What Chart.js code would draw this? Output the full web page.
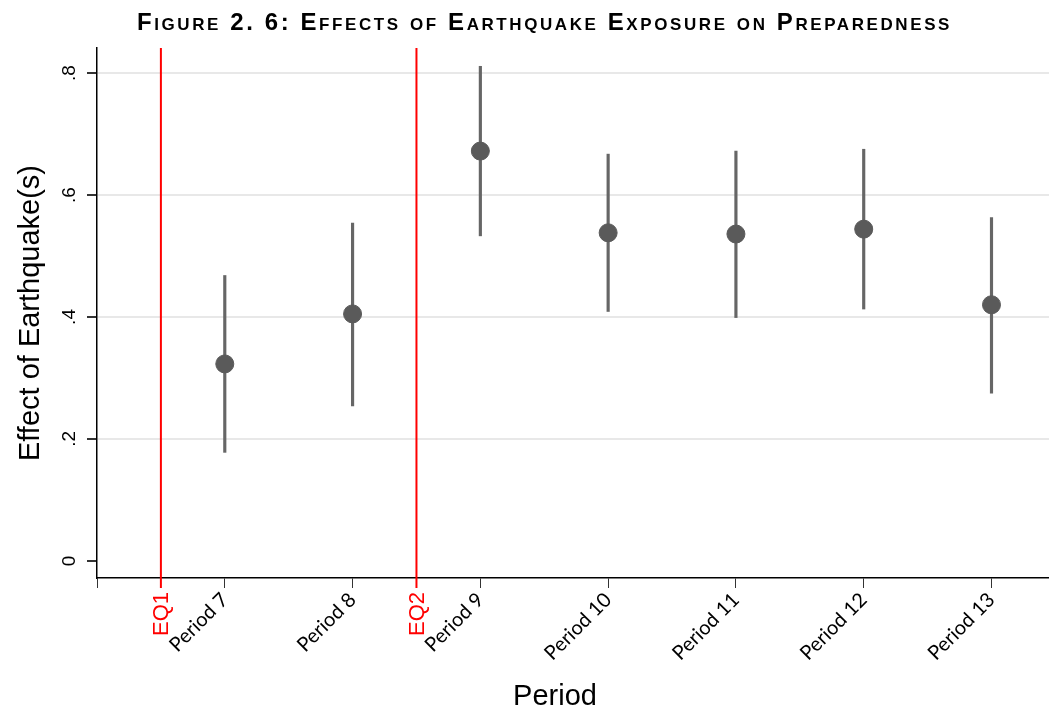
<!DOCTYPE html>
<html>
<head>
<meta charset="utf-8">
<title>Effects of Earthquake Exposure on Preparedness</title>
<script src="https://cdn.jsdelivr.net/npm/chart.js"></script>
<style>
    html, body {
        margin: 0;
        padding: 0;
        background: #ffffff;
    }

    .chart-box {
        width: 1049px;
        height: 713px;
    }
</style>
</head>
<body>
<div class="chart-box">
    <canvas id="effectChart"></canvas>
</div>

<script>
    // values
    const periods = [7, 8, 9, 10, 11, 12, 13];
    const periodLabels = ['Period 7', 'Period 8', 'Period 9', 'Period 10', 'Period 11', 'Period 12', 'Period 13'];
    const effects = [0.323, 0.405, 0.672, 0.538, 0.536, 0.544, 0.420];
    const ciLow = [0.178, 0.254, 0.533, 0.409, 0.399, 0.413, 0.275];
    const ciHigh = [0.468, 0.554, 0.811, 0.667, 0.672, 0.675, 0.563];

    // earthquake markers sit between periods
    const quakes = [6.5, 8.5];
    const quakeLabels = ['EQ1', 'EQ2'];

    const yTicks = [0, 0.2, 0.4, 0.6, 0.8];
    const yTickLabels = ['0', '.2', '.4', '.6', '.8'];
    const xTicks = [6, 6.5, 7, 8, 8.5, 9, 10, 11, 12, 13];

    const titleText = 'Figure 2. 6: Effects of Earthquake Exposure on Preparedness';

    const pointData = periods.map((p, i) => ({x: p, y: effects[i]}));
    const ciData = periods.map((p, i) => ({x: p, y: [ciLow[i], ciHigh[i]]}));

    const arial = '"Liberation Sans", Arial, sans-serif';

    // red vertical lines, rotated EQ labels, small-caps title, x title
    const quakePlugin = {
        id: 'quakeLines',
        beforeDatasetsDraw(chart) {
            const ctx = chart.ctx;
            const x = chart.scales.x;
            const area = chart.chartArea;
            ctx.save();
            ctx.strokeStyle = '#ff0000';
            ctx.lineWidth = 2;
            quakes.forEach(q => {
                const px = x.getPixelForValue(q);
                ctx.beginPath();
                ctx.moveTo(px, area.top);
                ctx.lineTo(px, area.bottom + 10);
                ctx.stroke();
            });
            ctx.restore();
        },
        afterDraw(chart) {
            const ctx = chart.ctx;
            const x = chart.scales.x;
            const area = chart.chartArea;

            // EQ labels
            ctx.save();
            ctx.fillStyle = '#ff0000';
            ctx.font = '22px ' + arial;
            ctx.textAlign = 'right';
            ctx.textBaseline = 'middle';
            quakes.forEach((q, i) => {
                const px = x.getPixelForValue(q);
                ctx.save();
                ctx.translate(px + 1, area.bottom + 14);
                ctx.rotate(-Math.PI / 2);
                ctx.fillText(quakeLabels[i], 0, 0);
                ctx.restore();
            });
            ctx.restore();

            // title in small caps, spaced out to the original width
            ctx.save();
            ctx.fillStyle = '#000000';
            ctx.font = 'bold 24px ' + arial;
            ctx.fontVariantCaps = 'small-caps';
            ctx.letterSpacing = '2.6px';
            ctx.textAlign = 'left';
            ctx.textBaseline = 'alphabetic';
            const w = ctx.measureText(titleText).width;
            const sx = 815 / w;
            ctx.translate(137, 30);
            ctx.scale(sx, 1);
            ctx.fillText(titleText, 0, 0);
            ctx.restore();

            // x axis title
            ctx.save();
            ctx.fillStyle = '#000000';
            ctx.font = '29px ' + arial;
            ctx.textAlign = 'center';
            ctx.textBaseline = 'middle';
            ctx.fillText('Period', (x.left + x.right) / 2 - 18, 697);
            ctx.restore();
        }
    };

    new Chart(document.getElementById('effectChart'), {
        type: 'scatter',
        data: {
            datasets: [{
                type: 'scatter',
                label: 'Effect',
                data: pointData,
                backgroundColor: '#5a5a5a',
                borderColor: '#5a5a5a',
                pointRadius: 9,
                pointHoverRadius: 9,
                order: 0
            }, {
                type: 'bar',
                label: '95% CI',
                data: ciData,
                backgroundColor: '#666666',
                borderWidth: 0,
                barThickness: 2.5,
                grouped: false,
                order: 1
            }]
        },
        options: {
            responsive: true,
            maintainAspectRatio: false,
            animation: false,
            layout: {
                autoPadding: false,
                padding: {left: 14, right: 0, top: 48, bottom: 0}
            },
            plugins: {
                legend: {display: false},
                tooltip: {enabled: false},
                title: {display: false}
            },
            scales: {
                x: {
                    type: 'linear',
                    min: 6,
                    max: 13.45,
                    offset: false,
                    afterBuildTicks: scale => {
                        scale.ticks = xTicks.map(v => ({value: v}));
                    },
                    afterFit: scale => {
                        scale.height = 135;
                        scale.paddingRight = 0;
                        scale.paddingLeft = 0;
                    },
                    border: {display: true, color: '#000000', width: 1.5},
                    grid: {
                        drawOnChartArea: false,
                        drawTicks: true,
                        tickLength: 10,
                        tickColor: '#333333',
                        offset: false
                    },
                    ticks: {
                        autoSkip: false,
                        minRotation: 45,
                        maxRotation: 45,
                        padding: 0,
                        color: '#000000',
                        font: {family: 'Lato, "Open Sans", sans-serif', size: 20},
                        callback: value => {
                            const i = periods.indexOf(value);
                            return i >= 0 ? periodLabels[i] : '';
                        }
                    },
                    title: {display: false}
                },
                y: {
                    min: -0.028,
                    max: 0.841,
                    afterBuildTicks: scale => {
                        scale.ticks = yTicks.map(v => ({value: v}));
                    },
                    afterFit: scale => {
                        scale.width = 83;
                    },
                    border: {display: true, color: '#000000', width: 1.5},
                    grid: {
                        color: ctx => (ctx.tick && ctx.tick.value === 0) ? 'rgba(0,0,0,0)' : '#e8e8e8',
                        lineWidth: 2,
                        drawTicks: true,
                        tickLength: 10,
                        tickColor: '#333333'
                    },
                    ticks: {
                        minRotation: 90,
                        maxRotation: 90,
                        crossAlign: 'center',
                        padding: 9,
                        color: '#000000',
                        font: {family: arial, size: 19},
                        callback: value => {
                            const i = yTicks.indexOf(value);
                            return i >= 0 ? yTickLabels[i] : '';
                        }
                    },
                    title: {
                        display: true,
                        text: 'Effect of Earthquake(s)',
                        color: '#000000',
                        font: {family: arial, size: 29},
                        padding: {top: 0, bottom: 0}
                    }
                }
            }
        },
        plugins: [quakePlugin]
    });
</script>
</body>
</html>
